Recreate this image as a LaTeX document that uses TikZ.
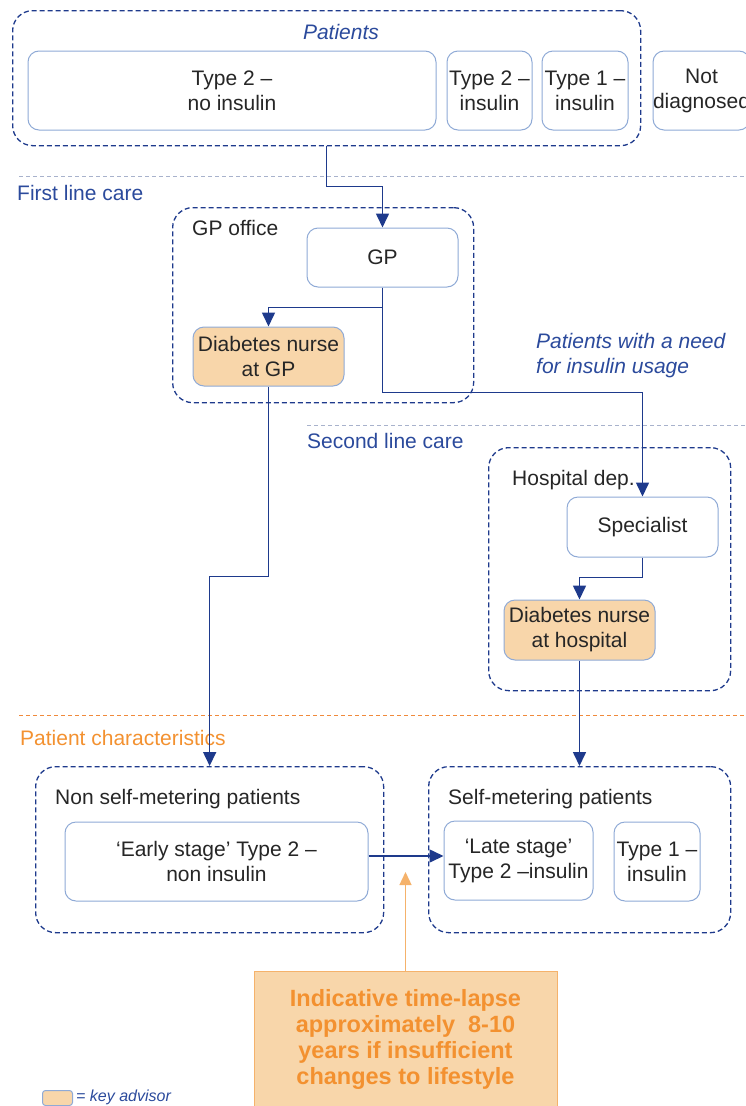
\documentclass[tikz,border=0pt]{standalone}
\usepackage{fontspec}
\setmainfont{Liberation Sans}
\usetikzlibrary{arrows.meta}

\definecolor{navy}{HTML}{1E3A8C}
\definecolor{boxline}{HTML}{8FAAD6}
\definecolor{peach}{HTML}{F8D6AA}
\definecolor{labelblue}{HTML}{2B4A9C}
\definecolor{orangetxt}{HTML}{F39130}
\definecolor{orangeline}{HTML}{F5B26B}
\definecolor{sepgray}{HTML}{A8B2CC}
\definecolor{sepocre}{HTML}{F08A3C}

\tikzset{
  every node/.style={font=\fontsize{21}{25}\selectfont, text=black!85},
  group/.style={draw=navy, line width=1.3pt, dash pattern=on 5pt off 3pt, rounded corners=20pt, anchor=north west, inner sep=0pt},
  box/.style={draw=boxline, line width=1pt, rounded corners=11pt, fill=white, align=center, inner sep=0pt},
  advisor/.style={box, fill=peach},
  caption/.style={anchor=west, inner sep=0pt},
  bluecap/.style={caption, text=labelblue},
  flow/.style={draw=navy, line width=1.6pt, -{Triangle[length=14pt,width=13pt]}},
  sepline/.style={draw=sepgray, line width=1pt, dash pattern=on 4pt off 3pt},
}

\begin{document}
\begin{tikzpicture}[x=1pt,y=-1pt]
\useasboundingbox (0,0) rectangle (746,1106);

\draw[sepline]                 (19,176)  -- (746,176);
\draw[sepline]                 (307,425) -- (746,425);
\draw[sepline, draw=sepocre]   (19,715)  -- (746,715);

\node[group, minimum width=628pt, minimum height=135pt] (patients) at (12,10)  {};
\node[group, minimum width=301pt, minimum height=195pt] (gpoffice) at (172,207) {};
\node[group, minimum width=242pt, minimum height=243pt] (hospital) at (488,447) {};
\node[group, minimum width=348pt, minimum height=166pt] (nonself)  at (35,766)  {};
\node[group, minimum width=302pt, minimum height=166pt] (self)     at (428,766) {};

\node[bluecap, anchor=center, font=\fontsize{21}{25}\selectfont\itshape] (patientslbl) at (341,32) {Patients};
\node[box, minimum width=408pt, minimum height=79pt] (t2no)   at (232,90.5)   {Type 2 --\\no insulin};
\node[box, minimum width=85pt,  minimum height=79pt] (t2ins)  at (489.5,90.5) {Type 2 --\\insulin};
\node[box, minimum width=86pt,  minimum height=79pt] (t1ins)  at (585,90.5)   {Type 1 --\\insulin};
\node[box, minimum width=89pt,  minimum height=79pt] (notdia) at (701.5,90.5) {Not\\diagnosed};

\node[bluecap] (firstline)  at (17,193)  {First line care};
\node[caption] (gpofficelbl) at (192,228) {GP office};
\node[box, minimum width=151pt, minimum height=59pt] (gp)       at (382.5,257.5) {GP};
\node[advisor, minimum width=151pt, minimum height=59pt] (nursegp) at (268.5,356.5) {Diabetes nurse\\at GP};

\node[bluecap, align=left, font=\fontsize{21}{25}\selectfont\itshape] (needlbl) at (536,355.5) {Patients with a need\\for insulin usage};

\node[bluecap] (secondline) at (307,441) {Second line care};
\node[caption] (hospitallbl) at (512,480) {Hospital dep.};
\node[box, minimum width=151pt, minimum height=60pt] (spec)        at (642.5,527) {Specialist};
\node[advisor, minimum width=151pt, minimum height=60pt] (nursehosp) at (579.5,630) {Diabetes nurse\\at hospital};

\node[caption, text=orangetxt] (charlbl) at (20,738) {Patient characteristics};
\node[caption] (nonselflbl) at (55,799)  {Non self-metering patients};
\node[caption] (selflbl)    at (448,799) {Self-metering patients};
\node[box, minimum width=303pt, minimum height=79pt] (early) at (216.5,861.5) {`Early stage' Type 2 --\\non insulin};
\node[box, minimum width=149pt, minimum height=79pt] (late)  at (518.5,860.5) {`Late stage'\\Type 2 --insulin};
\node[box, minimum width=86pt,  minimum height=79pt] (t1low) at (657,861.5)   {Type 1 --\\insulin};

\node[draw=orangeline, fill=peach, line width=1pt, minimum width=303pt, minimum height=140pt, anchor=north, inner sep=0pt] (lapsebox) at (405.5,971) {};
\node[align=center, text=orangetxt, font=\fontsize{23.5}{26}\selectfont\bfseries] (lapsetxt) at (405.5,1039) {Indicative time-lapse\\approximately \ 8-10\\years if insufficient\\changes to lifestyle};
\coordinate (lapsetip) at (405.5,872);

\node[advisor, rounded corners=3pt, minimum width=30pt, minimum height=15pt, anchor=north west] (keybox) at (42,1090) {};
\node[bluecap, font=\fontsize{16}{18}\selectfont\itshape] (keylbl) at (76,1097) {= key advisor};

\draw[flow] (patients.south) -- ++(0,40)  -| (gp.north);
\draw[flow] (gp.south)       -- ++(0,20)  -| (nursegp.north);
\draw[flow] (gp.south)       -- ++(0,105) -| (spec.north);
\draw[flow] (spec.south)     -- ++(0,20)  -| (nursehosp.north);
\draw[flow] (nursegp.south)  -- ++(0,190) -| (nonself.north);
\draw[flow] (nursehosp.south) -- (nursehosp.south |- self.north);
\draw[flow] (early.east |- 0,856) -- (late.west |- 0,856);

\draw[draw=orangeline, line width=1.4pt, -{Triangle[length=13pt,width=12pt]}] (lapsebox.north) -- (lapsetip);

\end{tikzpicture}
\end{document}
